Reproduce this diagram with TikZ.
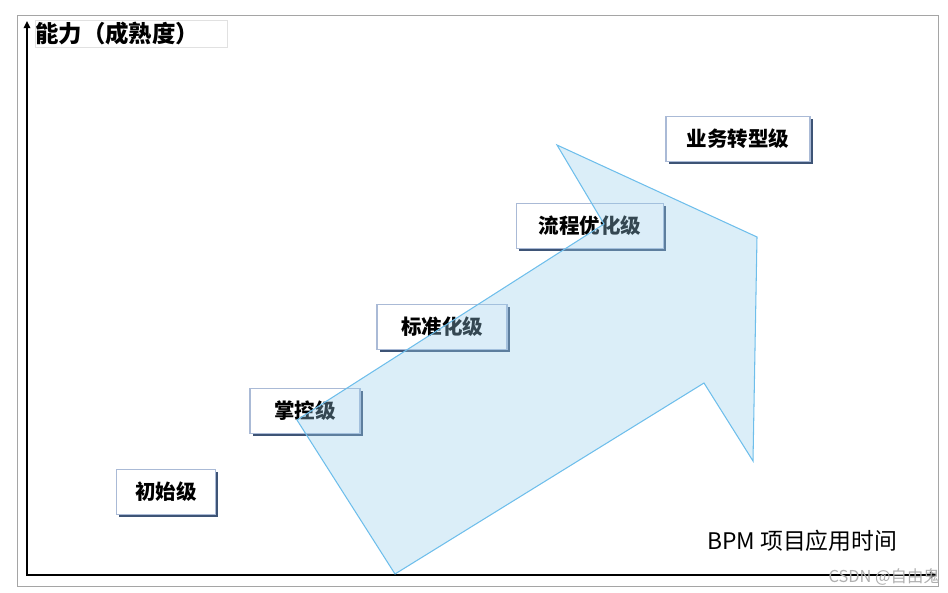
\documentclass[tikz,border=0pt]{standalone}
\usepackage{fontspec}
\newfontfamily\cjk{Noto Sans CJK SC}
\usetikzlibrary{arrows.meta,shadows}
\definecolor{framegray}{RGB}{165,165,165}
\definecolor{titleedge}{RGB}{225,225,225}
\definecolor{boxedge}{RGB}{170,186,214}
\definecolor{boxshade}{RGB}{62,84,118}
\definecolor{arrowfill}{RGB}{152,206,235}
\definecolor{arrowedge}{RGB}{110,190,235}
\definecolor{watermark}{RGB}{175,175,175}

\begin{document}
\begin{tikzpicture}[x=0.3mm, y=-0.3mm,
		stage/.style={draw=boxedge, line width=1pt, fill=white, minimum height=45*0.3mm,
		              inner sep=0pt, font=\cjk\bfseries\fontsize{17.5}{19}\selectfont,
		              drop shadow={shadow xshift=2.2pt, shadow yshift=-2.2pt, fill=boxshade, opacity=1}},
		axis/.style={line width=2.4pt, line cap=rect, -{Triangle[length=6pt,width=5.5pt]}}]
		\useasboundingbox (0,0) rectangle (948,593);
		\draw[framegray, line width=0.8pt] (17,15) rectangle (938,586);
		% axes
		\coordinate (origin) at (27,575);
		\coordinate (ytop) at (27,21);
		\coordinate (xend) at (937,575);
		\draw[axis] (origin) -- (ytop);
		\draw[axis] (origin) -- (xend);
		\node[draw=titleedge, fill=white, anchor=north west, text width=192*0.3mm, align=left,
		      minimum height=27*0.3mm, inner sep=0pt, font=\cjk\bfseries\fontsize{20}{22}\selectfont]
		      (ylabel) at (35,20) {能力（成熟度）};
		\node[anchor=west, font=\cjk\fontsize{19.5}{21}\selectfont] (xlabel) at (703,541) {BPM 项目应用时间};
		% maturity stages
		\foreach \nm/\cx/\cy/\w/\txt in {init/166/492/99/初始级, ctrl/305/411/110/掌控级,
				std/442/327/130/标准化级, opt/590/226/147/流程优化级, trans/738/139/144/业务转型级}
			\node[stage, minimum width=\w*0.3mm] (\nm) at (\cx,\cy) {\txt};
		% growth arrow
		\draw[arrowedge, fill=arrowfill, fill opacity=0.35, line width=0.9pt, line join=miter]
			(297,420) -- (604,224) -- (557,145) -- (757,237) -- (753,461) -- (704,383) -- (395,574) -- cycle;
		\node[anchor=east, text=watermark, font=\cjk\fontsize{14}{16}\selectfont] (mark) at (944,577) {CSDN @自由鬼};
	\end{tikzpicture}
\end{document}
